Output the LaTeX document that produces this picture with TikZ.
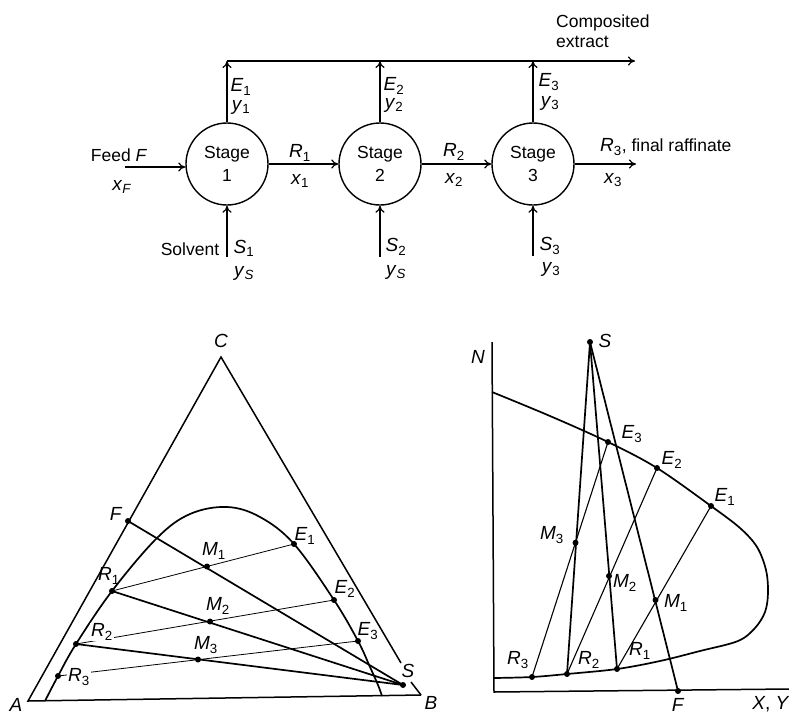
\documentclass[tikz,border=0pt]{standalone}
\usepackage{fontspec}
\setmainfont{Liberation Sans}
\usetikzlibrary{arrows.meta}
\newcommand{\txtfont}{\fontsize{17.5}{20}\selectfont}
\newcommand{\varfont}{\fontsize{19}{21}\selectfont}
\newcommand{\vv}[2]{\textit{#1}\textsubscript{#2}}
\tikzset{
  stage/.style={circle, draw, line width=1.4pt, minimum size=82pt, inner sep=0pt, align=center, font=\txtfont},
  arr/.style={-{To[length=7pt,width=9pt]}, line width=1.2pt},
  txt/.style={inner sep=0pt, font=\txtfont},
  var/.style={inner sep=0.5pt, font=\varfont},
  wvar/.style={var, fill=white, inner sep=1pt},
  dot/.style={circle, fill, inner sep=0pt, minimum size=6pt},
  side/.style={line width=1.5pt},
  curve/.style={line width=1.7pt},
  thickln/.style={line width=1.7pt},
  thinln/.style={line width=0.8pt},
  tieln/.style={line width=1.1pt}
}
\begin{document}
\begin{tikzpicture}[x=1pt,y=-1pt]
\useasboundingbox (0,0) rectangle (789,715);

% ---------------- top flow sheet ----------------
\node[stage] (s1) at (227,164) {Stage\\[3pt]1};
\node[stage] (s2) at (380,164) {Stage\\[3pt]2};
\node[stage] (s3) at (533,164) {Stage\\[3pt]3};

\coordinate (e1top) at (227,61);
\coordinate (e2top) at (380,61);
\coordinate (e3top) at (533,61);
\coordinate (extend) at (635,61);
\coordinate (feedin) at (125,167);
\coordinate (r3out) at (636,164);
\coordinate (sol1) at (227,257);
\coordinate (sol2) at (380,257);
\coordinate (sol3) at (533,256);

\draw[arr] (e1top) -- (extend);
\draw[arr] (s1.north) -- (e1top);
\draw[arr] (s2.north) -- (e2top);
\draw[arr] (s3.north) -- (e3top);
\draw[arr] (feedin) -- (s1.west |- feedin);
\draw[arr] (s1.east) -- (s2.west);
\draw[arr] (s2.east) -- (s3.west);
\draw[arr] (s3.east) -- (r3out);
\draw[arr] (sol1) -- (s1.south);
\draw[arr] (sol2) -- (s2.south);
\draw[arr] (sol3) -- (s3.south);

\node[txt, anchor=west, align=left] (comp) at (556,31) {Composited\\extract};
\node[txt] (feedl) at (119,155) {Feed \textit{F}};
\node[var] (xf) at (122,187) {\textit{x}\textsubscript{\textit{F}}};
\node[var] (E1t) at (241,87) {\vv{E}{1}};
\node[var] (y1t) at (241,107) {\vv{y}{1}};
\node[var] (E2t) at (394,86) {\vv{E}{2}};
\node[var] (y2t) at (394,105) {\vv{y}{2}};
\node[var] (E3t) at (549,82) {\vv{E}{3}};
\node[var] (y3t) at (550,103) {\vv{y}{3}};
\node[var] (R1t) at (300,153) {\vv{R}{1}};
\node[var] (x1t) at (300,181) {\vv{x}{1}};
\node[var] (R2t) at (454,152) {\vv{R}{2}};
\node[var] (x2t) at (454,180) {\vv{x}{2}};
\node[anchor=west, inner sep=0pt] (R3t) at (600,147) {{\varfont\vv{R}{3}}{\txtfont, final raffinate}};
\node[var] (x3t) at (613,180) {\vv{x}{3}};
\node[txt] (solv) at (190,249) {Solvent};
\node[var] (S1t) at (244,248) {\vv{S}{1}};
\node[var] (yS1) at (244,273) {\textit{y}\textsubscript{\textit{S}}};
\node[var] (S2t) at (396,247) {\vv{S}{2}};
\node[var] (yS2) at (396,272) {\textit{y}\textsubscript{\textit{S}}};
\node[var] (S3t) at (550,246) {\vv{S}{3}};
\node[var] (y3b) at (551,269) {\vv{y}{3}};

% ---------------- triangular diagram ----------------
\coordinate (A) at (28,701);
\coordinate (B) at (421,695);
\coordinate (C) at (221,357);
\coordinate (Cgap1) at (401,663);
\coordinate (Cgap2) at (411,682);
\draw[side] (B) -- (A) -- (C) -- (Cgap1);
\draw[side] (Cgap2) -- (B);

\draw[curve] plot[smooth, tension=0.6] coordinates {(45,701) (58,676) (76,644) (112,591) (157,538) (190,514) (227,507) (260,517) (294,544) (334,600) (358,641) (370,667) (378,685) (382,696)};

\node[dot] (tF) at (128,521) {};
\node[dot] (tS) at (403,685) {};
\node[dot] (tR1) at (112,591) {};
\node[dot] (tR2) at (76,644) {};
\node[dot] (tR3) at (58,676) {};
\node[dot] (tE1) at (294,544) {};
\node[dot] (tE2) at (334,600) {};
\node[dot] (tE3) at (358,641) {};
\node[dot] (tM1) at (207,566.5) {};
\node[dot] (tM2) at (210,621.5) {};
\node[dot] (tM3) at (198,659.5) {};

\draw[thinln] (tR1.center) -- (tE1.center);
\draw[thinln] (tR2.center) -- (tE2.center);
\draw[thinln] (tR3.center) -- (tE3.center);
\draw[thickln] (tF.center) -- (tS.center);
\draw[thickln] (tR1.center) -- (tS.center);
\draw[thickln] (tR2.center) -- (tS.center);

\node[var] (lC) at (221,341) {\textit{C}};
\node[var] (lA) at (16,705) {\textit{A}};
\node[var] (lB) at (431,703) {\textit{B}};
\node[var] (lF) at (116,514) {\textit{F}};
\node[var] (lS) at (408,671) {\textit{S}};
\node[var] (lM1) at (214,551) {\vv{M}{1}};
\node[var] (lM2) at (218,606) {\vv{M}{2}};
\node[var] (lM3) at (206,645) {\vv{M}{3}};
\node[var] (lE1) at (305,536) {\vv{E}{1}};
\node[var] (lE2) at (345,589) {\vv{E}{2}};
\node[var] (lE3) at (368,631) {\vv{E}{3}};
\node[var] (lR1) at (109,576) {\vv{R}{1}};
\node[wvar] (lR2) at (102,632) {\vv{R}{2}};
\node[wvar] (lR3) at (79,677) {\vv{R}{3}};

% ---------------- right (Janecke) diagram ----------------
\coordinate (Ntop) at (492,342);
\coordinate (O) at (494,692);
\coordinate (Xend) at (789,689);
\draw[side] (Ntop) -- (O) -- (Xend);

\draw[curve] plot[smooth, tension=0.55] coordinates {(492,392) (550,416) (608,442) (657,468) (711,506) (740,528) (757,547) (766,570) (768,593) (765,612) (755,628) (738,641) (700,651) (660,661) (617,669) (567,674) (532,677) (494,678)};

\node[dot] (jS) at (590,342) {};
\node[dot] (jF) at (678,691) {};
\node[dot] (jE1) at (711,506) {};
\node[dot] (jE2) at (657,468) {};
\node[dot] (jE3) at (608,442) {};
\node[dot] (jR1) at (617,669) {};
\node[dot] (jR2) at (567,674) {};
\node[dot] (jR3) at (532,677) {};
\node[dot] (jM1) at (655.5,600) {};
\node[dot] (jM2) at (609,576) {};
\node[dot] (jM3) at (575.5,542.7) {};

\draw[tieln] (jR1.center) -- (jE1.center);
\draw[tieln] (jR2.center) -- (jE2.center);
\draw[tieln] (jR3.center) -- (jE3.center);
\draw[thickln] (jS.center) -- (jF.center);
\draw[thickln] (jS.center) -- (jR1.center);
\draw[thickln] (jS.center) -- (jR2.center);

\node[var] (lN) at (478,357) {\textit{N}};
\node[var] (ljS) at (605,341) {\textit{S}};
\node[var] (ljE3) at (632,434) {\vv{E}{3}};
\node[var] (ljE2) at (672,460) {\vv{E}{2}};
\node[var] (ljE1) at (725,497) {\vv{E}{1}};
\node[var] (ljM3) at (552,535) {\vv{M}{3}};
\node[var] (ljM2) at (625,583) {\vv{M}{2}};
\node[var] (ljM1) at (676,603) {\vv{M}{1}};
\node[var] (ljR3) at (518,660) {\vv{R}{3}};
\node[var] (ljR2) at (589,660) {\vv{R}{2}};
\node[var] (ljR1) at (640,651) {\vv{R}{1}};
\node[var] (ljF) at (678,705) {\textit{F}};
\node[var] (lXY) at (771,704) {\textit{X}, \textit{Y}};
\end{tikzpicture}
\end{document}
